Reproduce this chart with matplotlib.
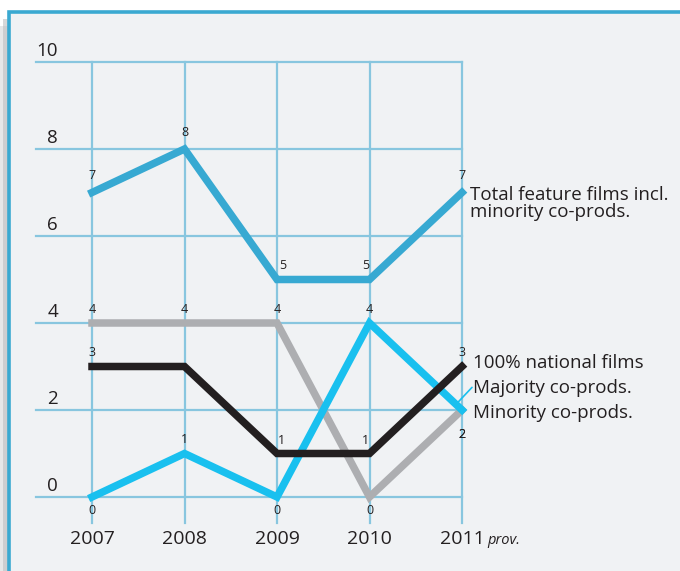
import matplotlib
matplotlib.use("Agg")
import matplotlib.pyplot as plt
from matplotlib.patches import Rectangle
import numpy as np

plt.rcParams['font.family'] = ['Open Sans', 'DejaVu Sans']

years = [2007, 2008, 2009, 2010, 2011]
year_labels = ["2007", "2008", "2009", "2010", "2011"]
y_ticks = [0, 2, 4, 6, 8, 10]

total = [7, 8, 5, 5, 7]
national = [3, 3, 1, 1, 3]
majority = [0, 1, 0, 4, 2]
minority = [4, 4, 4, 0, 2]

c_total = "#37a9d2"
c_nat = "#231f20"
c_maj = "#19c0ef"
c_min = "#adaeb1"
c_grid = "#88c6df"
c_bg = "#f0f2f4"

W, H = 680, 571
fig = plt.figure(figsize=(W / 100, H / 100), dpi=100)
fig.patch.set_facecolor("white")

def fx(px):
    return px / W

def fy(py):
    return 1 - py / H

# shadow and frame
fig.patches.append(Rectangle((fx(0), fy(H + 20)), fx(12), fy(26) - fy(H + 20),
                             transform=fig.transFigure, facecolor="#d6d7d9",
                             edgecolor="none", alpha=0.6, zorder=-10))
fig.patches.append(Rectangle((fx(3), fy(H + 20)), fx(8), fy(19) - fy(H + 20),
                             transform=fig.transFigure, facecolor="#bdbec0",
                             edgecolor="none", alpha=0.6, zorder=-9))
fig.patches.append(Rectangle((fx(8.5), fy(H + 20)), fx(W + 20), fy(11.5) - fy(H + 20),
                             transform=fig.transFigure, facecolor=c_bg,
                             edgecolor="#3aa9d1", linewidth=2.6, zorder=-8))

# axes in pixel layout
left_px, right_px, top_px, bot_px = 36, 462, 62, 523
ax = fig.add_axes([fx(left_px), fy(bot_px), fx(right_px - left_px), fy(top_px) - fy(bot_px)])
ax.set_facecolor("none")
dx = (462 - 92) / 4.0
dy = (497 - 62) / 10.0
ax.set_xlim(2007 - (92 - left_px) / dx, 2011)
ax.set_ylim(-(bot_px - 497) / dy, 10)
for s in ax.spines.values():
    s.set_visible(False)
ax.set_xticks([])
ax.set_yticks([])

# grid
for yv in y_ticks:
    ax.axhline(yv, color=c_grid, lw=1.6, zorder=1, clip_on=False)
for xv in years:
    ax.axvline(xv, color=c_grid, lw=1.6, zorder=1, clip_on=False)

# y tick labels
for yv in y_ticks:
    ax.annotate(str(yv), xy=((58 - left_px) / (right_px - left_px), yv),
                xycoords=ax.get_yaxis_transform(), xytext=(0, 1.5),
                textcoords="offset points", ha="right", va="bottom",
                fontsize=13.5, color="#231f20")

# x tick labels
for xv, lab in zip(years, year_labels):
    ax.annotate(lab, xy=(xv, 0), xycoords=ax.get_xaxis_transform(),
                xytext=(0, -5), textcoords="offset points", ha="center", va="top",
                fontsize=14, color="#231f20")
ax.annotate("prov.", xy=(2011, 0), xycoords=ax.get_xaxis_transform(),
            xytext=(18, -7.5), textcoords="offset points", ha="left", va="top",
            fontsize=10.5, style="italic", color="#231f20")

lw = 5.4
ax.plot(years, minority, color=c_min, lw=lw, zorder=3, solid_joinstyle="miter", clip_on=False)
ax.plot(years, majority, color=c_maj, lw=lw, zorder=4, solid_joinstyle="miter", clip_on=False)
ax.plot(years, national, color=c_nat, lw=lw, zorder=5, solid_joinstyle="miter", clip_on=False)
ax.plot(years, total, color=c_total, lw=lw, zorder=5, solid_joinstyle="miter", clip_on=False)

# value labels: offsets per point (None = no label)
def vlabels(vals, offs):
    for xv, v, off in zip(years, vals, offs):
        if off is None:
            continue
        ax.annotate(str(v), xy=(xv, v), xytext=off, textcoords="offset points",
                    ha="center", va="center", fontsize=9, color="#231f20", zorder=6)

vlabels(total, [(0, 12), (0, 12), (4, 10), (-3, 10), (0, 12)])
vlabels(minority, [(0, 10), (0, 10), (0, 10), (0, -10), (0, -18)])
vlabels(national, [(0, 10), None, (3, 9), (-3, 9), (0, 10)])
vlabels(majority, [(0, -10), (0, 10), (0, -10), (0, 10), (0, -18)])

# series labels
tx = 2011 + (470 - 462) / dx
ax.text(tx, 6.74, "Total feature films incl.\nminority co-prods.", ha="left", va="center",
        fontsize=13.5, linespacing=0.92, color="#231f20")
ax.text(tx + 3 / dx, 3.08, "100% national films", ha="left", va="center",
        fontsize=13.5, color="#231f20")
ax.text(tx + 3 / dx, 2.50, "Majority co-prods.", ha="left", va="center",
        fontsize=13.5, color="#231f20")
ax.text(tx + 3 / dx, 1.93, "Minority co-prods.", ha="left", va="center",
        fontsize=13.5, color="#231f20")
# leader line for majority
x0 = 2011 - 6 / dx
y0 = np.interp(x0, years, majority)
ax.annotate("", xy=(x0, y0), xytext=(tx + 2 / dx, 2.52),
            arrowprops=dict(arrowstyle="-", color=c_maj, lw=1.2, shrinkA=0, shrinkB=0))

fig.savefig("out.png", dpi=100, facecolor="white")
